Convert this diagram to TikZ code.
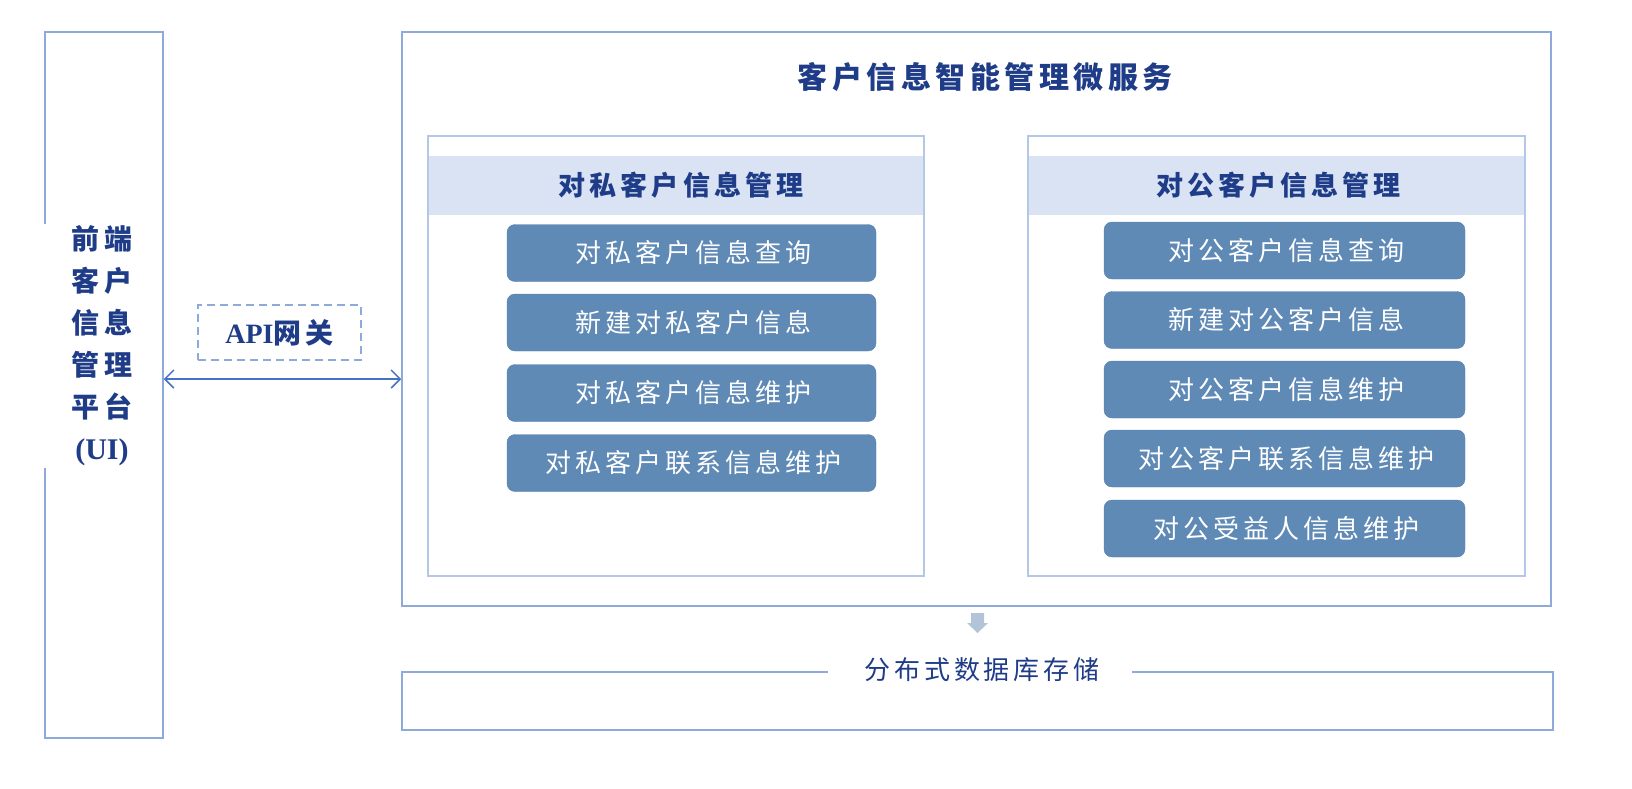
\documentclass[tikz,border=0pt]{standalone}
\usepackage{fontspec}
\setmainfont{Liberation Serif}
\newfontfamily\cjk[LetterSpace=15]{Noto Sans CJK SC}
\usetikzlibrary{arrows.meta}

\definecolor{frameblue}{HTML}{8EAADB}
\definecolor{panelblue}{HTML}{B4C7E7}
\definecolor{headfill}{HTML}{DAE3F3}
\definecolor{btnfill}{HTML}{5F8AB6}
\definecolor{btnline}{HTML}{5580AD}
\definecolor{inkblue}{HTML}{1F3C88}
\definecolor{linkblue}{HTML}{4472C4}
\definecolor{downgray}{HTML}{B4C4D8}

\tikzset{
  frame/.style={draw=frameblue, line width=1.5pt, inner sep=0pt},
  panel/.style={draw=panelblue, line width=1.5pt, inner sep=0pt},
  headbar/.style={fill=headfill, inner sep=0pt, minimum height=59, text=inkblue,
    font=\cjk\bfseries\fontsize{27}{27}\selectfont},
  btn/.style={fill=btnfill, draw=btnline, rounded corners=8pt, inner sep=0pt,
    minimum height=57, text=white, font=\cjk\fontsize{26}{26}\selectfont},
}

\begin{document}
\begin{tikzpicture}[x=1pt, y=-1pt]
\useasboundingbox (0,0) rectangle (1632,788);
% front end platform
\node[frame, minimum width=118, minimum height=706] (ui) at (104,385) {};
\node[fill=white, text width=112, align=center, inner sep=2pt, text=inkblue,
  font=\cjk\bfseries\fontsize{28}{42}\selectfont] (uitxt) at (102,346)
  {前端\\客户\\信息\\管理\\平台\\{\normalfont\bfseries\fontsize{30}{42}\selectfont(UI)}};
% gateway
\node[draw=frameblue, dash pattern=on 8pt off 5pt, line width=1.3pt, minimum width=163,
  minimum height=55, text=inkblue, font=\fontsize{28}{28}\selectfont\bfseries] (api)
  at (279.5,332.5) {API{\cjk 网关}};
% microservice frame
\node[frame, minimum width=1149, minimum height=574] (svc) at (976.5,319) {};
\node[text=inkblue, font=\cjk\bfseries\fontsize{30}{30}\selectfont] (title) at (985,77)
  {客户信息智能管理微服务};
\coordinate (linky) at (0,379);
\draw[{Straight Barb[length=9pt,width=18pt]}-{Straight Barb[length=9pt,width=18pt]},
  linkblue, line width=1.5pt] (ui.east |- linky) -- (svc.west |- linky);
% private customers
\node[panel, minimum width=496, minimum height=440] (priv) at (676,356) {};
\node[headbar, minimum width=494] (privhead) at (676,185.5) {\hspace{10pt}对私客户信息管理};
\foreach \y/\t [count=\i] in {253/对私客户信息查询, 322.5/新建对私客户信息,
    393/对私客户信息维护, 463/对私客户联系信息维护}
  \node[btn, minimum width=369] (pb\i) at (691.5,\y) {\hspace{4pt}\t};
% corporate customers
\node[panel, minimum width=497, minimum height=440] (corp) at (1276.5,356) {};
\node[headbar, minimum width=495] (corphead) at (1276.5,185.5) {\hspace{4pt}对公客户信息管理};
\foreach \y/\t [count=\i] in {250.5/对公客户信息查询, 320/新建对公客户信息,
    389.5/对公客户信息维护, 458.5/对公客户联系信息维护, 528.5/对公受益人信息维护}
  \node[btn, minimum width=361] (cb\i) at (1284.5,\y) {\hspace{4pt}\t};
% storage
\fill[downgray] (971,613) -- (984,613) -- (984,623) -- (988,623) -- (977.5,633)
  -- (967,623) -- (971,623) -- cycle;
\node[frame, minimum width=1151, minimum height=58] (store) at (977.5,701) {};
\node[fill=white, inner xsep=32pt, inner ysep=2pt, text=inkblue,
  font=\cjk\fontsize{26}{26}\selectfont] (storetxt) at (980,670) {\hspace{4pt}分布式数据库存储};
\end{tikzpicture}
\end{document}
